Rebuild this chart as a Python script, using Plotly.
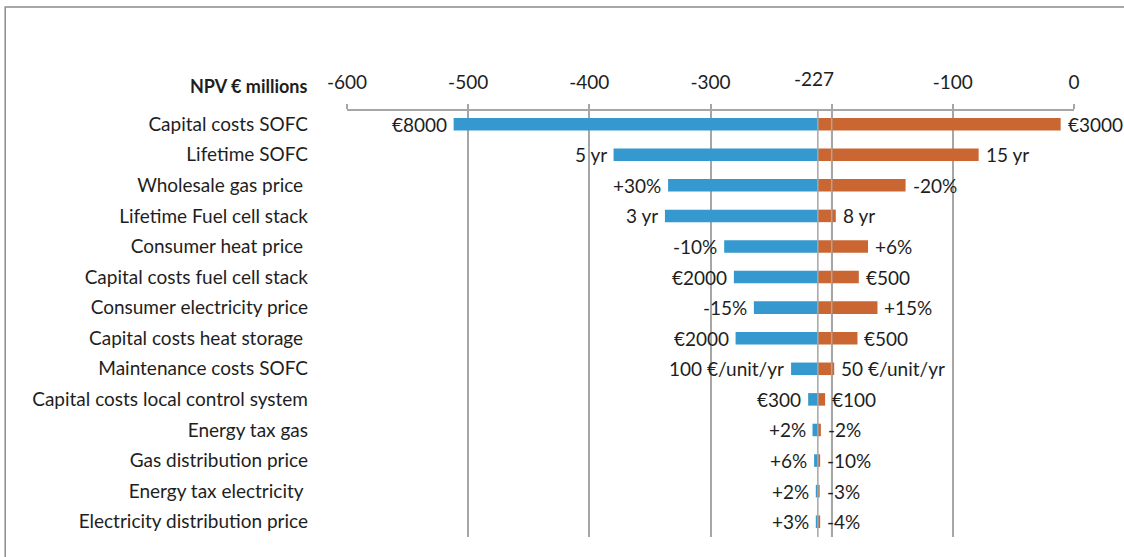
import plotly.graph_objects as go

categories = [
    "Capital costs SOFC", "Lifetime SOFC", "Wholesale gas price ",
    "Lifetime Fuel cell stack", "Consumer heat price ",
    "Capital costs fuel cell stack", "Consumer electricity price",
    "Capital costs heat storage ", "Maintenance costs SOFC",
    "Capital costs local control system", "Energy tax gas",
    "Gas distribution price", "Energy tax electricity ",
    "Electricity distribution price",
]
base_npv = -211.4
base_label = "-227"
low_values = [-512, -380, -335, -337.6, -288.7, -280.7, -264.2, -279.3,
              -233.5, -219.4, -215.8, -214.5, -213.1, -213.1]
high_values = [-11, -78.7, -139, -196.6, -170, -177.6, -162.2, -178.7,
               -197.9, -205.4, -208.9, -209.5, -209.9, -209.5]
low_labels = ["€8000", "5 yr", "+30%", "3 yr", "-10%", "€2000", "-15%", "€2000",
              "100 €/unit/yr", "€300", "+2%", "+6%", "+2%", "+3%"]
high_labels = ["€3000", "15 yr", "-20%", "8 yr", "+6%", "€500", "+15%", "€500",
               "50 €/unit/yr", "€100", "-2%", "-10%", "-3%", "-4%"]
x_tickvals = [-600, -500, -400, -300, -200, -100, 0]
x_ticktext = ["-600", "-500", "-400", "-300", "", "-100", "0"]
axis_title = "NPV € millions"

FONT = "Lato"
FS = 19
TXT = "#1E1E1E"
BLUE = "#3598CE"
ORANGE = "#CA6631"
GRID = "#A6A6A6"

ypos = list(range(len(categories)))

fig = go.Figure()
fig.add_trace(go.Bar(
    y=ypos, x=[v - base_npv for v in low_values], base=base_npv,
    orientation="h", marker=dict(color=BLUE, line=dict(width=0)),
    width=0.41, showlegend=False, hoverinfo="skip"))
fig.add_trace(go.Bar(
    y=ypos, x=[v - base_npv for v in high_values], base=base_npv,
    orientation="h", marker=dict(color=ORANGE, line=dict(width=0)),
    width=0.41, showlegend=False, hoverinfo="skip"))

for yi, xv, t in zip(ypos, low_values, low_labels):
    fig.add_annotation(x=xv, y=yi, xref="x", yref="y", text=t, showarrow=False,
                       xanchor="right", yanchor="middle", xshift=-5,
                       font=dict(family=FONT, size=FS, color=TXT))
for yi, xv, t in zip(ypos, high_values, high_labels):
    fig.add_annotation(x=xv, y=yi, xref="x", yref="y", text=t, showarrow=False,
                       xanchor="left", yanchor="middle", xshift=5,
                       font=dict(family=FONT, size=FS, color=TXT))

# centre line and -200 line drawn above bars
for xv in [base_npv, -200]:
    fig.add_shape(type="line", xref="x", yref="paper", x0=xv, x1=xv, y0=0, y1=1,
                  line=dict(color=GRID, width=1.5), layer="above")

fig.add_annotation(x=base_npv, xref="x", y=1 + (111 - 78) / 426, yref="paper", text=base_label,
                   showarrow=False, xshift=-4, yanchor="middle",
                   font=dict(family=FONT, size=FS, color=TXT))
fig.add_annotation(x=-0.052, xref="paper", y=1 + (111 - 86) / 426, yref="paper",
                   text="<b>" + axis_title + "</b>",
                   showarrow=False, xanchor="right", yanchor="middle",
                   font=dict(family=FONT, size=FS - 1, color=TXT))

# outer border
fig.add_shape(type="rect", xref="paper", yref="paper",
              x0=(5 - 347) / 727.4, x1=1.2, y0=-0.2, y1=1 + (111 - 7) / 426,
              line=dict(color="#8C8C8C", width=1.5), layer="below")

fig.update_layout(
    width=1124, height=557,
    margin=dict(l=347, r=49.6, t=111, b=20, autoexpand=False),
    plot_bgcolor="white", paper_bgcolor="white",
    barmode="overlay",
    font=dict(family=FONT, size=FS, color=TXT),
    xaxis=dict(side="top", range=[-600, 0], tickvals=x_tickvals, ticktext=x_ticktext,
               showgrid=True, gridcolor=GRID, gridwidth=1.5,
               showline=True, linecolor=GRID, linewidth=1.5,
               ticks="outside", ticklen=5, tickcolor=GRID, tickwidth=1.5,
               ticklabelstandoff=8, zeroline=False, automargin=False,
               tickfont=dict(family=FONT, size=FS, color=TXT)),
    yaxis=dict(range=[13.5, -0.43], tickvals=ypos, ticktext=categories,
               showgrid=False, zeroline=False, showline=False, ticks="",
               ticklabelstandoff=38, automargin=False,
               tickfont=dict(family=FONT, size=FS, color=TXT)),
)

fig.write_html("out.html", config={"displayModeBar": False},
               post_script="document.body.style.margin='0';")
